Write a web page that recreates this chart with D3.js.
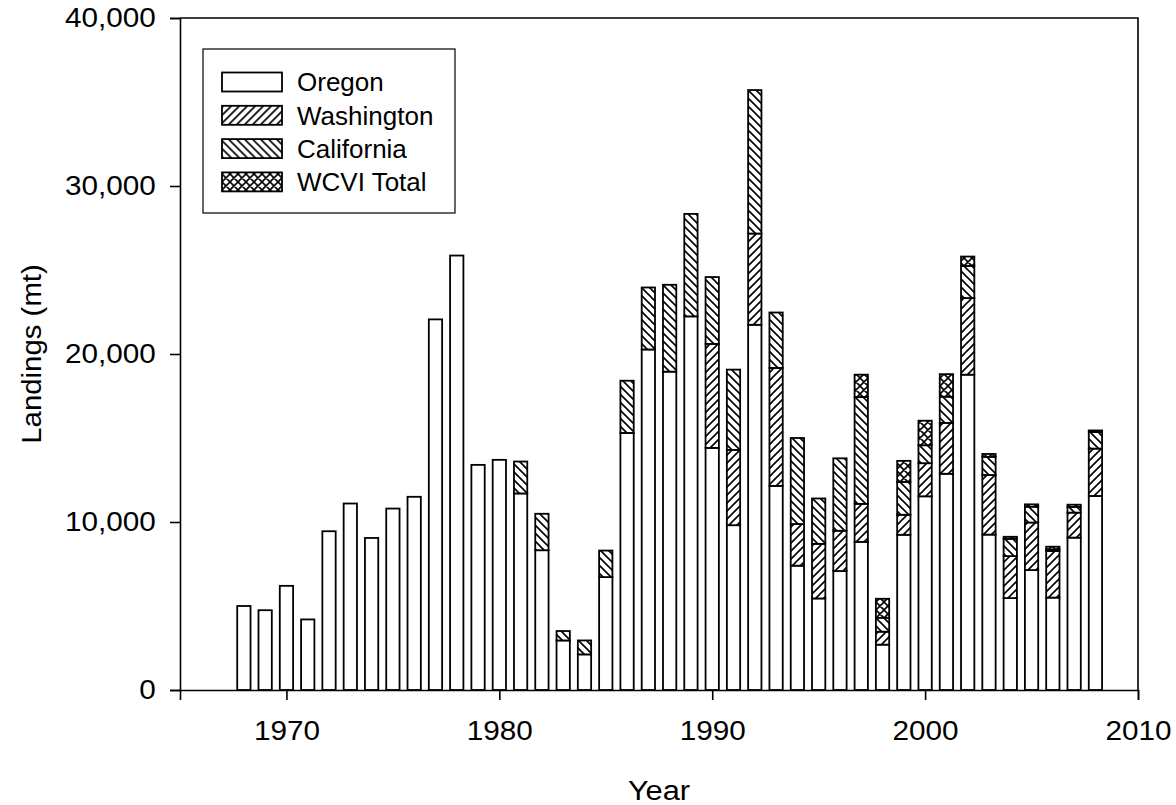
<!DOCTYPE html>
<html lang="en">
<head>
    <meta charset="UTF-8">
    <title>Landings by State</title>
    <script src="https://d3js.org/d3.v7.min.js"></script>
    <style>
        body { margin: 0; background: #ffffff; }
        text { font-family: "Liberation Sans", Arial, sans-serif; fill: #000000; }
        .axis path, .axis line { stroke: #000000; stroke-width: 1.6; }
    </style>
</head>
<body>
    <svg id="chart" width="1176" height="805"></svg>
    <script>
        // Landings (mt) by year
        const years = d3.range(1968, 2009);
        const oregon = [5000, 4750, 6200, 4200, 9450, 11100, 9050, 10800, 11500, 22060,
                        25860, 13400, 13700, 11700, 8320, 2950, 2120, 6720, 15300, 20270,
                        18950, 22240, 14410, 9810, 21740, 12150, 7400, 5450, 7080, 8820,
                        2700, 9240, 11530, 12870, 18770, 9250, 5470, 7140, 5500, 9070, 11550];
        const washington = [0, 0, 0, 0, 0, 0, 0, 0, 0, 0,
                            0, 0, 0, 0, 0, 0, 0, 0, 0, 0,
                            0, 0, 6190, 4480, 5430, 7020, 2480, 3250, 2400, 2260,
                            770, 1190, 1970, 3030, 4560, 3550, 2500, 2830, 2770, 1490, 2820];
        const california = [0, 0, 0, 0, 0, 0, 0, 0, 0, 0,
                            0, 0, 0, 1900, 2170, 560, 830, 1580, 3110, 3690,
                            5170, 6100, 3980, 4780, 8540, 3300, 5120, 2700, 4310, 6360,
                            830, 1960, 1070, 1560, 1920, 1080, 1030, 940, 100, 340, 990];
        const wcvi = [0, 0, 0, 0, 0, 0, 0, 0, 0, 0,
                      0, 0, 0, 0, 0, 0, 0, 0, 0, 0,
                      0, 0, 0, 0, 0, 0, 0, 0, 0, 1330,
                      1130, 1250, 1460, 1340, 550, 170, 120, 140, 160, 130, 90];
        const seriesNames = ["Oregon", "Washington", "California", "WCVI Total"];
        const yTicks = [0, 10000, 20000, 30000, 40000];
        const xTicks = [1970, 1980, 1990, 2000, 2010];

        const margin = {top: 18, right: 38, bottom: 115, left: 180};
        const width = 1176 - margin.left - margin.right,
              height = 805 - margin.top - margin.bottom;

        const svg = d3.select("#chart");

        // hatch patterns
        const defs = svg.append("defs");
        const sp = 8;
        const pat = (id, d) => defs.append("pattern")
            .attr("id", id)
            .attr("patternUnits", "userSpaceOnUse")
            .attr("width", sp).attr("height", sp)
            .call(p => p.append("rect").attr("width", sp).attr("height", sp).attr("fill", "#fff"))
            .append("path")
            .attr("d", d)
            .attr("stroke", "#000")
            .attr("stroke-width", 1.6)
            .attr("fill", "none");
        const fwd = `M0,${sp} L${sp},0 M-2,2 L2,-2 M${sp - 2},${sp + 2} L${sp + 2},${sp - 2}`;
        const bwd = `M0,0 L${sp},${sp} M-2,${sp - 2} L2,${sp + 2} M${sp - 2},-2 L${sp + 2},2`;
        pat("hWash", fwd);
        pat("hCal", bwd);
        pat("hWcvi", fwd + " " + bwd);
        const fills = ["#ffffff", "url(#hWash)", "url(#hCal)", "url(#hWcvi)"];

        const g = svg.append("g")
            .attr("transform", `translate(${margin.left},${margin.top})`);

        const x = d3.scaleLinear().domain([1965, 2010]).range([0, width]);
        const y = d3.scaleLinear().domain([0, 40000]).range([height, 0]);

        const rows = years.map((yr, i) => ({
            year: yr,
            "Oregon": oregon[i],
            "Washington": washington[i],
            "California": california[i],
            "WCVI Total": wcvi[i]
        }));
        const stacked = d3.stack().keys(seriesNames)(rows);

        const barW = (x(1) - x(0)) * 0.625;

        g.selectAll("g.series")
            .data(stacked)
            .enter().append("g")
            .attr("class", "series")
            .attr("fill", (d, i) => fills[i])
            .selectAll("rect")
            .data(d => d.filter(s => s[1] - s[0] > 0))
            .enter().append("rect")
            .attr("x", d => x(d.data.year) - barW / 2)
            .attr("width", barW)
            .attr("y", d => y(d[1]))
            .attr("height", d => y(d[0]) - y(d[1]))
            .attr("stroke", "#000")
            .attr("stroke-width", 1.8);

        // axes (labels a little wide, like the original)
        g.append("g")
            .attr("class", "axis")
            .attr("transform", `translate(0,${height})`)
            .call(d3.axisBottom(x).tickValues(xTicks).tickFormat(d3.format("d")).tickSize(10).tickPadding(21))
            .call(a => a.selectAll("text").attr("font-size", 27).attr("transform", "scale(1.1,1)"));

        g.append("g")
            .attr("class", "axis")
            .call(d3.axisLeft(y).tickValues(yTicks).tickFormat(d3.format(",")).tickSize(10).tickPadding(12))
            .call(a => a.selectAll("text").attr("font-size", 27).attr("transform", "scale(1.1,1)"));

        // frame top and right
        g.append("path")
            .attr("d", `M0,0 H${width} V${height}`)
            .attr("fill", "none")
            .attr("stroke", "#000")
            .attr("stroke-width", 1.6);

        // axis titles
        svg.append("text")
            .attr("transform", `translate(${margin.left + width / 2},800) scale(1.1,1)`)
            .attr("text-anchor", "middle")
            .attr("font-size", 28)
            .text("Year");

        svg.append("text")
            .attr("transform", `translate(41,${margin.top + height / 2}) rotate(-90) scale(1.05,1)`)
            .attr("text-anchor", "middle")
            .attr("font-size", 28)
            .text("Landings (mt)");

        // legend
        const legend = svg.append("g").attr("transform", "translate(203,49)");
        legend.append("rect")
            .attr("width", 252).attr("height", 164)
            .attr("fill", "#fff").attr("stroke", "#000").attr("stroke-width", 1.2);
        const item = legend.selectAll("g.item")
            .data(seriesNames)
            .enter().append("g")
            .attr("class", "item")
            .attr("transform", (d, i) => `translate(19,${33 + i * 33.3})`);
        item.append("rect")
            .attr("y", -9.5).attr("width", 60).attr("height", 19)
            .attr("fill", (d, i) => fills[i])
            .attr("stroke", "#000").attr("stroke-width", 1.8);
        item.append("text")
            .attr("x", 75)
            .attr("dy", "0.36em")
            .attr("font-size", 26)
            .text(d => d);
    </script>
</body>
</html>
